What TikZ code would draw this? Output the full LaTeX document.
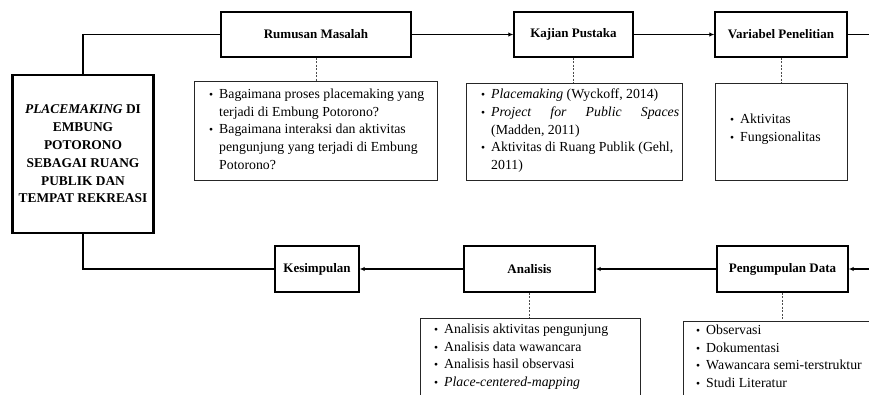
\documentclass[tikz,border=0pt]{standalone}
\usepackage{fontspec}
\setmainfont{Liberation Serif}
\usetikzlibrary{arrows.meta}
\newcommand{\bul}{\makebox[10pt][l]{\fontsize{11.5}{11.5}\selectfont\textbullet}}
\newcommand{\ind}{\hspace*{10pt}}
\begin{document}
\begin{tikzpicture}[x=1pt,y=-1pt,
  mainbox/.style={draw, line width=2.2pt, minimum width=141pt, minimum height=158pt, align=center, inner sep=0pt,
    font=\fontsize{13.4}{17.8}\selectfont\bfseries},
  stepbox/.style={draw, line width=1.4pt, minimum height=45pt, inner sep=0pt,
    font=\fontsize{13}{15}\selectfont\bfseries},
  listbox/.style={draw=black!85, line width=0.9pt, inner sep=0pt},
  listtext/.style={align=left, inner sep=0pt, anchor=north west, font=\fontsize{13.8}{17.8}\selectfont},
  conn/.style={line width=1.4pt},
  arr/.style={line width=1.4pt, -{Latex[length=5pt,width=4.5pt]}},
  dashline/.style={line width=0.7pt, dash pattern=on 2pt off 1.5pt, black!70}
]
\clip (0,0) rectangle (869,395);
\useasboundingbox (0,0) rectangle (869,395);

% main box
\node[mainbox] (main) at (83,154) {\textit{PLACEMAKING} DI\\EMBUNG\\POTORONO\\SEBAGAI RUANG\\PUBLIK DAN\\TEMPAT REKREASI};

% top row
\node[stepbox, minimum width=190pt] (rum) at (316,34.5) {Rumusan Masalah};
\node[stepbox, minimum width=119pt] (kaj) at (573.5,34.5) {Kajian Pustaka};
\node[stepbox, minimum width=132pt] (var) at (781,34.5) {Variabel Penelitian};
\coordinate (eR1) at (869,34.5);

% bottom row
\node[stepbox, minimum width=84pt, minimum height=46pt] (kes) at (317,269) {Kesimpulan};
\node[stepbox, minimum width=131pt, minimum height=46pt] (ana) at (529.5,269) {Analisis};
\node[stepbox, minimum width=131pt, minimum height=46pt] (pen) at (782.5,269) {Pengumpulan Data};
\coordinate (eR2) at (869,269);

% list boxes
\node[listbox, minimum width=243pt, minimum height=99pt] (rumbox) at (315.5,130.5) {};
\node[listbox, minimum width=216pt, minimum height=97pt] (kajbox) at (574,131.5) {};
\node[listbox, minimum width=132pt, minimum height=97pt] (varbox) at (781,131.5) {};
\node[listbox, minimum width=220pt, minimum height=102pt] (anabox) at (530,369) {};
\node[listbox, minimum width=217pt, minimum height=99pt] (penbox) at (791.5,370.5) {};

% list texts
\node[listtext] (rumtext) at (209,88.5) {\bul Bagaimana proses placemaking yang\\
\ind terjadi di Embung Potorono?\\
\bul Bagaimana interaksi dan aktivitas\\
\ind pengunjung yang terjadi di Embung\\
\ind Potorono?};
\node[listtext] (kajtext) at (481,88.5) {\bul \textit{Placemaking} (Wyckoff, 2014)\\
\bul \makebox[188pt][s]{\textit{Project for Public Spaces}}\\
\ind (Madden, 2011)\\
\bul Aktivitas di Ruang Publik (Gehl,\\
\ind 2011)};
\node[listtext] (vartext) at (730,113.5) {\bul Aktivitas\\
\bul Fungsionalitas};
\node[listtext] (anatext) at (434,323.5) {\bul Analisis aktivitas pengunjung\\
\bul Analisis data wawancara\\
\bul Analisis hasil observasi\\
\bul \textit{Place-centered-mapping}};
\node[listtext] (pentext) at (696,324.5) {\bul Observasi\\
\bul Dokumentasi\\
\bul Wawancara semi-terstruktur\\
\bul Studi Literatur};

% connectors
\draw[conn] (main.north) |- (rum.west);
\draw[arr] (rum.east) -- (kaj.west);
\draw[arr] (kaj.east) -- (var.west);
\draw[conn] (var.east) -- (eR1);
\draw[arr] (eR2) -- (pen.east);
\draw[arr] (pen.west) -- (ana.east);
\draw[arr] (ana.west) -- (kes.east);
\draw[conn] (kes.west) -| (main.south);

% dashed links
\draw[dashline] (rum.south) -- (rum.south |- rumbox.north);
\draw[dashline] (kaj.south) -- (kaj.south |- kajbox.north);
\draw[dashline] (var.south) -- (var.south |- varbox.north);
\draw[dashline] (ana.south) -- (ana.south |- anabox.north);
\draw[dashline] (pen.south) -- (pen.south |- penbox.north);
\end{tikzpicture}
\end{document}
